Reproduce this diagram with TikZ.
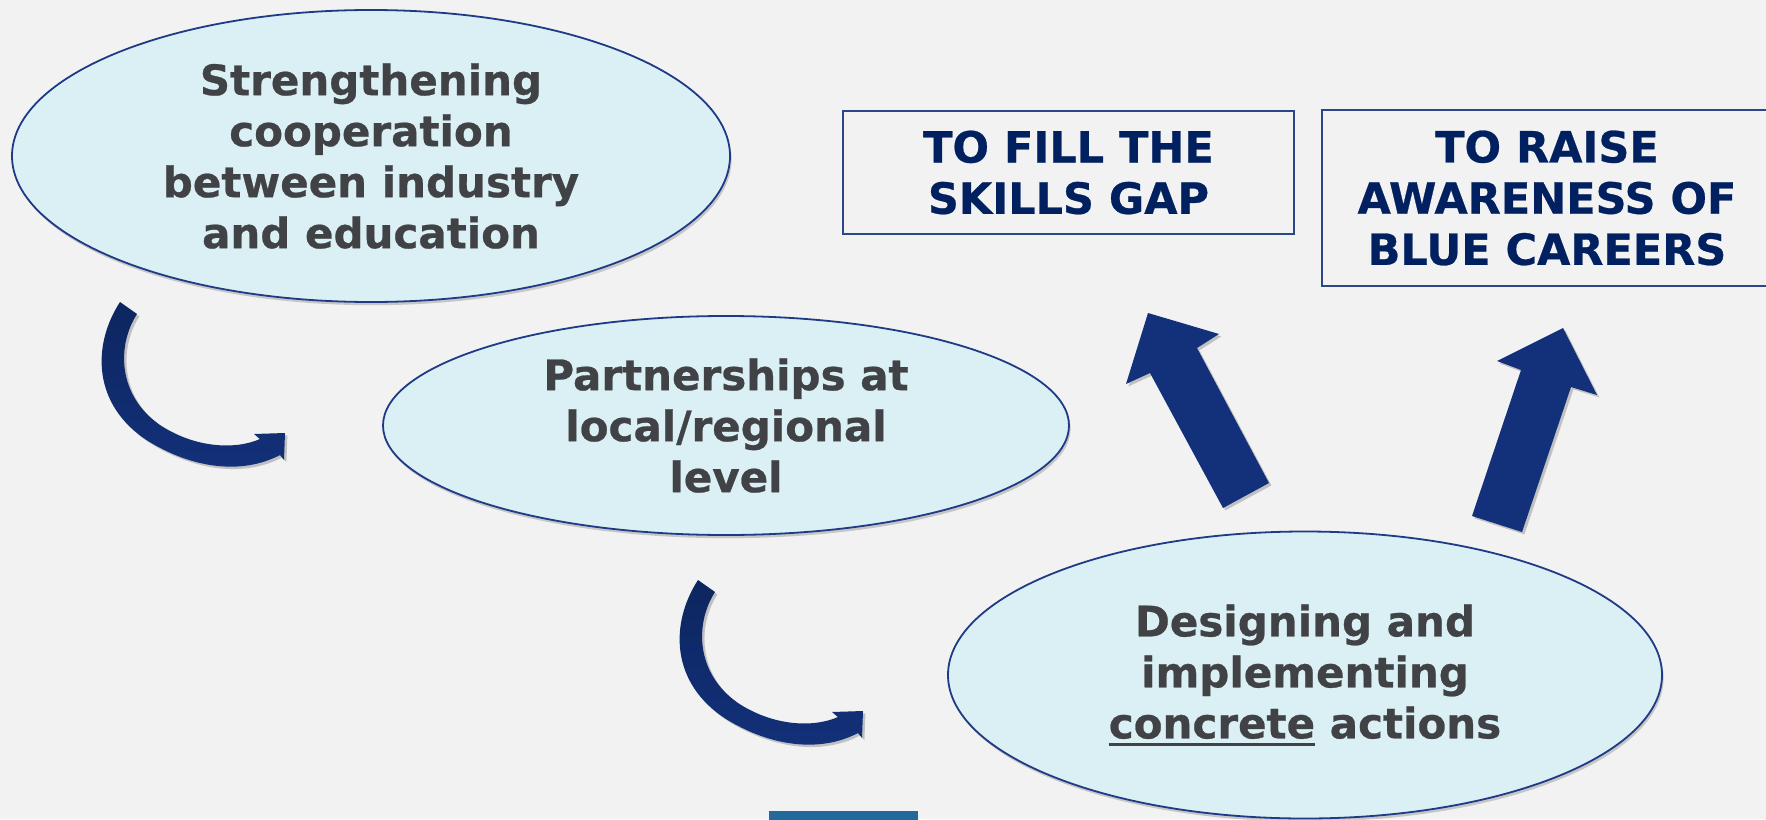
\documentclass[tikz,border=0pt]{standalone}
\usepackage{fontspec}
\setmainfont{DejaVu Sans}[BoldFeatures={FakeBold=0.6}]
\usetikzlibrary{shapes.geometric,shadows}
\definecolor{bg}{HTML}{F2F2F2}
\definecolor{ellfill}{HTML}{DAF0F4}
\definecolor{ellborder}{HTML}{1F3A86}
\definecolor{txtgray}{HTML}{404246}
\definecolor{navytxt}{HTML}{002060}
\definecolor{boxborder}{HTML}{2A4886}
\definecolor{arrowblue}{HTML}{13317A}
\definecolor{arrowdark}{HTML}{0D2660}
\definecolor{bottomblue}{HTML}{236A9C}
\newcommand\myunderline[1]{\setbox0\hbox{#1}\rlap{\rule[-3.6pt]{\wd0}{1.5pt}}\box0\relax}
\begin{document}
\begin{tikzpicture}[x=0.5pt,y=-0.5pt,
  bubble/.style={ellipse, draw=ellborder, line width=0.9pt, fill=ellfill, inner sep=0pt,
    text=txtgray, align=center, font={\fontsize{21}{25.5}\selectfont\bfseries},
    drop shadow={shadow xshift=0.8pt, shadow yshift=-1.6pt, opacity=0.18, fill=black}},
  goalbox/.style={rectangle, draw=boxborder, line width=0.9pt, inner sep=0pt,
    text=navytxt, align=center, font={\fontsize{21.5}{25.6}\selectfont\bfseries}},
  blockarrow/.style={fill=arrowblue,
    drop shadow={shadow xshift=1.2pt, shadow yshift=-1.2pt, opacity=0.2, fill=black}},
  curvedarrow/.style={top color=arrowdark, bottom color=arrowblue,
    drop shadow={shadow xshift=1.2pt, shadow yshift=-1.2pt, opacity=0.2, fill=black}}]
\useasboundingbox (0,0) rectangle (1766,819);
\fill[bg] (0,0) rectangle (1766,819);

% ellipses
\node[bubble, minimum width=359pt, minimum height=146pt] (e1) at (371,156)
  {Strengthening\\cooperation\\between industry\\and education};
\node[bubble, minimum width=343pt, minimum height=109.5pt] (e2) at (726,425.5)
  {Partnerships at\\local/regional\\level};
\node[bubble, minimum width=357pt, minimum height=143.5pt] (e3) at (1305,675)
  {Designing and\\implementing\\\myunderline{concrete} actions};

% goal boxes
\node[goalbox, minimum width=225.5pt, minimum height=61.5pt] (g1) at (1068.5,172.5)
  {TO FILL THE\\SKILLS GAP};
\node[goalbox, minimum width=225pt, minimum height=88pt] (g2) at (1547,198)
  {TO RAISE\\AWARENESS OF\\BLUE CAREERS};

% curved arrows
\foreach \dx/\dy in {0/0, 578/278}{
  \begin{scope}[shift={(\dx,\dy)}]
    \path[curvedarrow]
      (120,302) -- (137,314)
      .. controls (117,345) and (117,395) .. (160,425)
      .. controls (195,448) and (235,450) .. (260,439)
      -- (254,434) -- (285,433) -- (284,460) -- (280,455)
      .. controls (240,476) and (190,467) .. (148,441)
      .. controls (92,405) and (92,345) .. (120,302) -- cycle;
  \end{scope}
}

% straight block arrows
\fill[blockarrow] (1223,508) -- (1150,373) -- (1126,384) -- (1148,313)
  -- (1219,334) -- (1197,348) -- (1269,483) -- cycle;
\fill[blockarrow] (1472,516) -- (1521,370) -- (1497,361) -- (1563,328)
  -- (1597,395) -- (1571,387) -- (1522,532) -- cycle;

% bottom blue strip
\fill[bottomblue] (769,811) rectangle (918,822);
\end{tikzpicture}
\end{document}
